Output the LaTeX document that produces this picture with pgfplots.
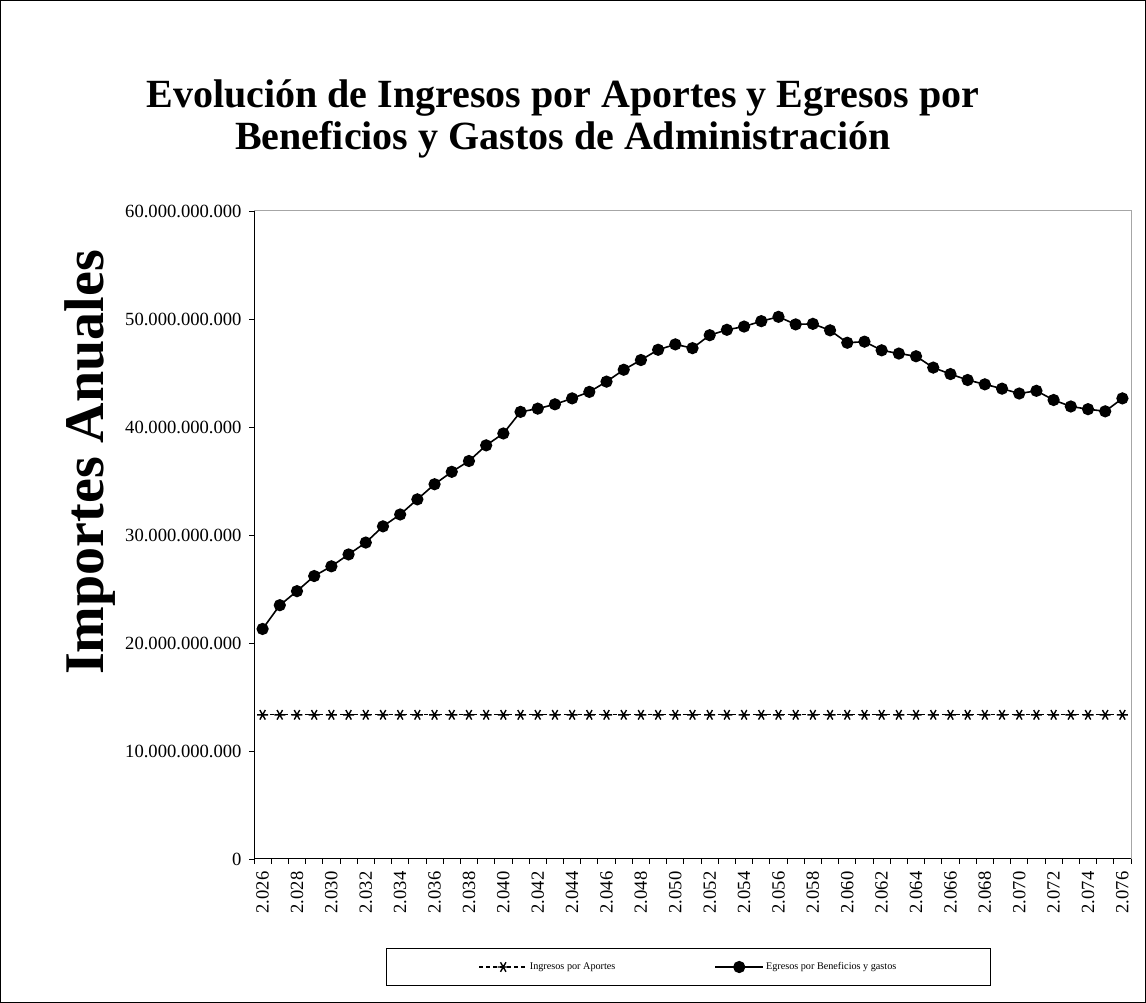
\documentclass[border=0pt]{standalone}
\usepackage{pgfplots}
\usepackage{pgfplotstable}
\pgfplotsset{compat=1.18}
\usepackage{fontspec}
\setmainfont{Liberation Serif}

\pgfplotstableread{
year ing egr
2026 13350000000 21300000000
2027 13350000000 23500000000
2028 13350000000 24800000000
2029 13350000000 26200000000
2030 13350000000 27100000000
2031 13350000000 28200000000
2032 13350000000 29300000000
2033 13350000000 30800000000
2034 13350000000 31900000000
2035 13350000000 33300000000
2036 13350000000 34700000000
2037 13350000000 35850000000
2038 13350000000 36850000000
2039 13350000000 38300000000
2040 13350000000 39400000000
2041 13350000000 41400000000
2042 13350000000 41700000000
2043 13350000000 42100000000
2044 13350000000 42650000000
2045 13350000000 43250000000
2046 13350000000 44200000000
2047 13350000000 45300000000
2048 13350000000 46200000000
2049 13350000000 47150000000
2050 13350000000 47650000000
2051 13350000000 47300000000
2052 13350000000 48500000000
2053 13350000000 49000000000
2054 13350000000 49300000000
2055 13350000000 49800000000
2056 13350000000 50200000000
2057 13350000000 49500000000
2058 13350000000 49550000000
2059 13350000000 48950000000
2060 13350000000 47800000000
2061 13350000000 47900000000
2062 13350000000 47100000000
2063 13350000000 46800000000
2064 13350000000 46550000000
2065 13350000000 45500000000
2066 13350000000 44900000000
2067 13350000000 44350000000
2068 13350000000 43950000000
2069 13350000000 43550000000
2070 13350000000 43100000000
2071 13350000000 43350000000
2072 13350000000 42500000000
2073 13350000000 41900000000
2074 13350000000 41650000000
2075 13350000000 41450000000
2076 13350000000 42650000000
}\datatable

\begin{document}
\begin{tikzpicture}[x=1pt,y=1pt]
\draw[line width=1pt] (0.5,0.5) rectangle (1145.5,1002.5);
\node[align=center, font=\fontsize{40}{42}\selectfont\bfseries] at (563,884)
  {Evolución de Ingresos por Aportes y Egresos por\\Beneficios y Gastos de Administración};
\node[rotate=90, font=\fontsize{56}{60}\selectfont\bfseries] at (90,540.5) {Importes Anuales};
\begin{axis}[
  at={(254pt,144pt)}, anchor=south west,
  width=877pt, height=648pt, scale only axis,
  xmin=2025.5, xmax=2076.5,
  ymin=0, ymax=60000000000,
  axis x line*=bottom, axis y line*=left,
  axis line style={black, line width=1pt},
  tick align=outside,
  major tick length=5pt,
  tick style={black, line width=0.8pt},
  scaled y ticks=false, scaled x ticks=false,
  ytick={0,10000000000,20000000000,30000000000,40000000000,50000000000,60000000000},
  yticklabels={0,10.000.000.000,20.000.000.000,30.000.000.000,40.000.000.000,50.000.000.000,60.000.000.000},
  yticklabel style={font=\fontsize{18.6}{20}\selectfont, xshift=-4pt},
  xtick={2025.5,2026.5,...,2076.5},
  xticklabels={},
  extra x ticks={2026,2028,...,2076},
  extra x tick labels={2.026,2.028,2.030,2.032,2.034,2.036,2.038,2.040,2.042,2.044,2.046,2.048,2.050,2.052,2.054,2.056,2.058,2.060,2.062,2.064,2.066,2.068,2.070,2.072,2.074,2.076},
  extra x tick style={major tick length=0pt,
    xticklabel style={rotate=90, anchor=east, font=\fontsize{18.6}{20}\selectfont, xshift=-9pt}},
  clip=false,
  legend columns=2,
  legend style={at={(0.4954,-0.1667)}, anchor=center, draw=black, line width=1pt,
    font=\fontsize{10.2}{11}\selectfont, inner xsep=92pt, inner ysep=12pt,
    /tikz/every even column/.append style={column sep=97pt}},
  legend cell align=left,
  legend image code/.code={\draw[mark repeat=2,mark phase=2,#1] plot coordinates {(0pt,0pt) (24pt,0pt) (48pt,0pt)};},
]
\draw[gray!70, line width=1pt] (rel axis cs:0,1) -- (rel axis cs:1,1) -- (rel axis cs:1,0);
\addplot[black, line width=1.3pt, dash pattern=on 4pt off 3pt, mark=asterisk, mark size=5.5pt,
  mark options={solid, line width=1.4pt, rotate=90}] table[x=year, y=ing] {\datatable};
\addlegendentry{Ingresos por Aportes}
\addplot[black, line width=1.6pt, mark=*, mark size=5.3pt, mark options={solid}] table[x=year, y=egr] {\datatable};
\addlegendentry{Egresos por Beneficios y gastos}
\end{axis}
\end{tikzpicture}
\end{document}
